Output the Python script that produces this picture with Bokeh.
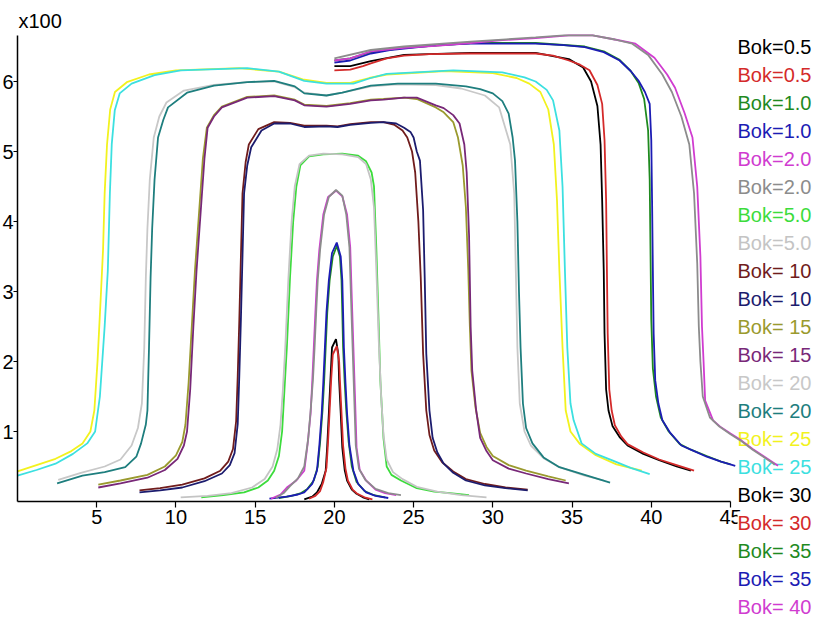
from bokeh.plotting import figure
from bokeh.models import Range1d, FixedTicker, Label
from bokeh.embed import file_html
from bokeh.resources import INLINE

# ---------------- data (x, y in units of 100) ----------------
bok05_black = [(18.1,0.03),(18.6,0.07),(18.9,0.13),(19.2,0.25),(19.45,0.44),(19.55,0.8),(19.65,1.26),(19.75,1.73),(19.85,2.2),(20.1,2.32),(20.25,2.1),(20.3,1.73),(20.4,1.26),(20.5,0.77),(20.65,0.45),(20.8,0.3),(21.1,0.17),(21.4,0.11),(21.8,0.06),(22.2,0.03)]
bok05_red = [(18.4,0.04),(18.8,0.08),(19.1,0.15),(19.3,0.28),(19.5,0.48),(19.6,0.85),(19.7,1.3),(19.8,1.75),(19.9,2.1),(20.15,2.22),(20.3,2.0),(20.35,1.73),(20.45,1.26),(20.55,0.8),(20.7,0.47),(20.85,0.3),(21.15,0.17),(21.45,0.11),(21.9,0.06),(22.4,0.03)]
bok1_green = [(16.5,0.05),(17.3,0.08),(17.9,0.12),(18.3,0.18),(18.7,0.3),(18.95,0.5),(19.1,0.85),(19.25,1.3),(19.35,1.7),(19.45,2.2),(19.55,2.7),(19.7,3.16),(19.9,3.5),(20.15,3.65),(20.35,3.5),(20.45,3.16),(20.5,2.7),(20.55,2.2),(20.65,1.7),(20.75,1.3),(20.9,0.85),(21.1,0.5),(21.4,0.28),(21.9,0.15),(22.5,0.09),(23.2,0.06)]
bok1_blue = [(15.9,0.04),(17.0,0.07),(17.7,0.1),(18.1,0.13),(18.6,0.25),(18.9,0.44),(19.05,0.8),(19.2,1.26),(19.3,1.7),(19.4,2.2),(19.5,2.7),(19.65,3.16),(19.85,3.55),(20.15,3.7),(20.4,3.5),(20.5,3.16),(20.55,2.7),(20.6,2.2),(20.7,1.7),(20.8,1.26),(20.95,0.8),(21.2,0.44),(21.5,0.25),(22.0,0.13),(22.6,0.08),(23.4,0.05)]
bok2_magenta = [(16.0,0.04),(16.6,0.1),(17.0,0.2),(17.6,0.3),(18.1,0.44),(18.3,0.8),(18.5,1.26),(18.6,1.7),(18.7,2.2),(18.8,2.7),(18.9,3.16),(19.05,3.6),(19.3,4.1),(19.6,4.35),(20.1,4.44),(20.5,4.36),(20.8,4.1),(21.0,3.63),(21.1,2.9),(21.2,2.2),(21.3,1.5),(21.4,0.77),(21.6,0.45),(22.0,0.3),(22.6,0.17),(23.2,0.12),(23.9,0.09)]
bok2_gray = [(16.3,0.05),(16.8,0.12),(17.2,0.22),(17.7,0.33),(18.1,0.5),(18.35,0.9),(18.5,1.3),(18.65,1.75),(18.75,2.2),(18.85,2.7),(18.95,3.16),(19.1,3.6),(19.35,4.1),(19.65,4.35),(20.1,4.45),(20.5,4.37),(20.75,4.1),(20.95,3.63),(21.05,2.9),(21.15,2.2),(21.25,1.5),(21.35,0.8),(21.55,0.47),(21.95,0.31),(22.6,0.18),(23.4,0.12),(24.2,0.09)]
bok5_lime = [(11.6,0.06),(13.0,0.09),(14.3,0.13),(15.2,0.2),(15.8,0.3),(16.2,0.44),(16.5,0.65),(16.7,1.0),(16.85,1.6),(17.0,2.2),(17.2,3.2),(17.4,4.0),(17.6,4.5),(17.85,4.8),(18.4,4.93),(19.3,4.96),(20.5,4.97),(21.5,4.94),(22.0,4.86),(22.35,4.7),(22.5,4.5),(22.65,3.6),(22.8,2.5),(22.9,1.73),(23.1,0.9),(23.3,0.5),(23.6,0.38),(24.2,0.3),(25.2,0.19),(26.3,0.14),(27.3,0.12),(28.5,0.09)]
bok5_silver = [(10.3,0.06),(12.0,0.08),(13.5,0.12),(14.8,0.2),(15.6,0.32),(16.1,0.5),(16.4,0.75),(16.6,1.1),(16.75,1.6),(16.9,2.2),(17.1,3.2),(17.3,4.0),(17.5,4.5),(17.8,4.82),(18.4,4.94),(19.3,4.97),(20.5,4.96),(21.5,4.92),(22.0,4.82),(22.3,4.6),(22.5,4.2),(22.65,3.3),(22.8,2.3),(22.95,1.5),(23.1,0.95),(23.3,0.6),(23.7,0.42),(24.3,0.32),(25.2,0.21),(26.5,0.14),(28.0,0.09),(29.6,0.06)]
bok10_maroon = [(7.7,0.16),(9.0,0.19),(10.4,0.24),(11.8,0.33),(12.8,0.44),(13.3,0.57),(13.6,0.75),(13.8,1.15),(13.9,1.8),(14.0,2.6),(14.1,3.5),(14.2,4.4),(14.4,4.85),(14.6,5.1),(15.2,5.32),(16.2,5.42),(17.2,5.41),(18.1,5.37),(19.5,5.37),(20.2,5.36),(21.0,5.39),(22.3,5.42),(23.1,5.42),(23.8,5.38),(24.3,5.3),(24.6,5.2),(24.9,5.0),(25.1,4.7),(25.3,4.0),(25.45,3.2),(25.6,2.11),(25.8,1.3),(26.0,0.95),(26.3,0.73),(26.8,0.56),(27.5,0.43),(28.3,0.32),(29.5,0.25),(30.8,0.2),(32.2,0.17)]
bok10_navy = [(7.7,0.13),(9.0,0.16),(10.4,0.2),(11.8,0.29),(12.9,0.4),(13.4,0.52),(13.7,0.69),(13.9,1.11),(14.0,1.8),(14.1,2.6),(14.2,3.5),(14.3,4.4),(14.5,4.8),(14.75,5.06),(15.4,5.3),(16.2,5.4),(17.2,5.4),(18.1,5.35),(19.5,5.36),(20.2,5.35),(21.0,5.38),(22.3,5.41),(23.1,5.42),(23.9,5.4),(24.4,5.34),(24.8,5.28),(25.0,5.2),(25.2,5.0),(25.4,4.87),(25.6,4.16),(25.7,3.2),(25.8,2.11),(26.0,1.3),(26.2,0.91),(26.5,0.7),(26.9,0.54),(27.5,0.41),(28.3,0.3),(29.5,0.23),(30.8,0.19),(32.2,0.16)]
bok15_olive = [(5.1,0.24),(6.5,0.3),(8.2,0.38),(9.3,0.5),(10.0,0.66),(10.4,0.85),(10.6,1.1),(10.8,1.7),(11.0,2.5),(11.2,3.3),(11.5,4.26),(11.7,4.9),(11.95,5.34),(12.4,5.52),(12.9,5.64),(14.5,5.78),(16.2,5.8),(17.5,5.74),(18.1,5.67),(19.5,5.65),(21.0,5.69),(22.3,5.74),(23.1,5.75),(24.4,5.77),(25.2,5.75),(26.4,5.63),(26.9,5.56),(27.5,5.42),(27.8,5.2),(28.1,4.8),(28.3,4.2),(28.45,3.3),(28.55,2.5),(28.65,1.87),(28.9,1.35),(29.2,0.98),(29.6,0.78),(30.0,0.65),(31.0,0.52),(32.1,0.44),(33.5,0.36),(34.6,0.3)]
bok15_purple = [(5.1,0.2),(6.5,0.26),(8.2,0.34),(9.3,0.45),(10.1,0.61),(10.5,0.8),(10.7,1.0),(10.9,1.6),(11.1,2.5),(11.3,3.3),(11.6,4.26),(11.8,4.9),(12.0,5.34),(12.4,5.5),(12.9,5.63),(14.5,5.77),(16.2,5.79),(17.5,5.73),(18.1,5.66),(19.5,5.64),(21.0,5.68),(22.3,5.73),(23.1,5.74),(24.4,5.77),(25.2,5.77),(26.4,5.66),(26.9,5.62),(27.5,5.52),(27.9,5.4),(28.2,5.1),(28.35,4.7),(28.5,3.8),(28.6,2.5),(28.7,1.87),(28.95,1.3),(29.2,0.91),(29.6,0.72),(30.0,0.59),(31.0,0.47),(32.1,0.4),(33.5,0.32),(34.8,0.26)]
bok20_silver = [(2.57,0.31),(4.0,0.41),(5.5,0.5),(6.5,0.6),(7.2,0.8),(7.6,1.05),(7.85,1.4),(8.0,2.2),(8.1,3.2),(8.2,3.9),(8.35,4.6),(8.6,5.2),(8.95,5.5),(9.4,5.7),(10.5,5.87),(12.4,5.95),(14.5,5.99),(16.2,6.0),(17.5,5.92),(18.1,5.84),(19.5,5.8),(20.5,5.84),(22.3,5.93),(24.0,5.96),(26.4,5.95),(28.0,5.9),(29.5,5.8),(30.4,5.63),(31.1,5.1),(31.35,4.4),(31.45,3.3),(31.55,2.2),(31.7,1.4),(32.0,1.0),(32.4,0.8),(33.2,0.62),(34.2,0.49),(35.8,0.37),(37.0,0.3)]
bok20_teal = [(2.5,0.26),(4.1,0.37),(5.5,0.42),(6.8,0.49),(7.5,0.64),(7.8,0.83),(8.1,1.1),(8.2,1.3),(8.3,2.2),(8.4,3.2),(8.5,3.9),(8.65,4.6),(8.87,5.2),(9.2,5.45),(9.5,5.63),(10.7,5.84),(12.4,5.94),(14.5,5.99),(16.2,6.01),(17.5,5.93),(18.1,5.83),(19.5,5.8),(20.5,5.84),(22.3,5.94),(24.0,5.97),(26.4,5.97),(28.3,5.93),(29.2,5.89),(30.0,5.83),(30.6,5.72),(31.0,5.54),(31.25,5.2),(31.4,4.87),(31.55,4.0),(31.65,3.0),(31.75,2.2),(31.9,1.4),(32.1,1.05),(32.5,0.83),(33.2,0.63),(34.2,0.49),(35.8,0.38),(37.4,0.27)]
bok25_yellow = [(0,0.43),(1.2,0.52),(2.4,0.61),(3.4,0.72),(4.1,0.83),(4.6,1.0),(4.85,1.3),(5.05,2.0),(5.25,2.9),(5.4,3.6),(5.5,4.4),(5.65,5.1),(5.85,5.6),(6.15,5.85),(6.9,5.99),(8.3,6.1),(10.0,6.16),(14.0,6.19),(16.5,6.14),(18.0,6.03),(19.5,5.98),(21.0,5.98),(22.2,6.05),(23.3,6.1),(27.0,6.15),(30.0,6.12),(31.5,6.05),(32.3,5.97),(33.0,5.85),(33.5,5.6),(33.85,5.1),(34.05,4.3),(34.2,3.3),(34.4,2.2),(34.6,1.3),(34.9,1.0),(35.5,0.82),(36.5,0.66),(37.8,0.53),(39.4,0.44)]
bok25_cyan = [(0,0.37),(1.2,0.45),(2.4,0.54),(3.5,0.68),(4.4,0.83),(4.9,1.0),(5.2,1.5),(5.5,2.5),(5.7,3.3),(5.83,4.4),(5.95,5.11),(6.14,5.59),(6.45,5.83),(7.2,5.97),(8.65,6.09),(10.3,6.16),(14.5,6.19),(16.5,6.14),(18.1,6.01),(19.5,5.97),(21.2,5.97),(22.3,6.05),(23.3,6.11),(27.5,6.16),(30.6,6.13),(32.0,6.06),(32.7,6.0),(33.4,5.88),(33.8,5.73),(34.2,5.3),(34.4,4.5),(34.55,3.3),(34.7,2.2),(34.9,1.4),(35.1,1.16),(35.6,0.83),(36.5,0.68),(37.5,0.59),(38.7,0.48),(39.9,0.39)]
bok30_black = [(20.0,6.22),(21.0,6.22),(22.3,6.29),(24.4,6.38),(28.6,6.41),(32.7,6.41),(34.8,6.32),(35.7,6.2),(36.2,6.0),(36.6,5.65),(36.8,5.1),(36.9,4.3),(37.0,3.3),(37.05,2.4),(37.15,1.6),(37.3,1.3),(37.55,1.08),(38.0,0.92),(38.5,0.8),(39.5,0.68),(40.5,0.59),(41.6,0.5),(42.5,0.44)]
bok30_red = [(20.0,6.16),(21.0,6.17),(21.8,6.22),(22.3,6.26),(23.3,6.33),(24.4,6.37),(26.0,6.39),(28.6,6.4),(30.6,6.4),(32.7,6.4),(33.8,6.37),(34.8,6.3),(35.5,6.24),(36.1,6.16),(36.6,5.95),(36.9,5.68),(37.05,5.16),(37.15,4.3),(37.2,3.3),(37.25,2.4),(37.35,1.6),(37.5,1.3),(37.7,1.09),(38.1,0.93),(38.5,0.82),(39.5,0.7),(40.5,0.6),(41.6,0.52),(42.7,0.44)]
bok35_green = [(20.0,6.3),(21.0,6.33),(22.3,6.42),(24.4,6.48),(28.6,6.55),(32.7,6.55),(35.8,6.5),(37.0,6.43),(38.0,6.31),(38.7,6.15),(39.2,5.98),(39.55,5.75),(39.8,5.3),(39.9,4.6),(39.95,3.6),(40.0,2.6),(40.1,1.9),(40.3,1.5),(40.6,1.2),(41.1,1.0),(41.8,0.82),(42.5,0.74),(43.5,0.65),(44.4,0.57),(45.0,0.53)]
bok35_blue = [(20.0,6.27),(21.0,6.3),(22.3,6.4),(23.5,6.45),(24.4,6.47),(26.5,6.52),(28.6,6.54),(32.7,6.54),(34.5,6.52),(35.8,6.49),(37.0,6.42),(38.0,6.3),(38.7,6.15),(39.2,6.01),(39.6,5.85),(39.9,5.68),(40.0,5.16),(40.05,4.3),(40.1,3.3),(40.15,2.4),(40.25,1.73),(40.45,1.4),(40.7,1.16),(41.2,0.98),(41.9,0.8),(42.6,0.73),(43.5,0.64),(44.4,0.57),(45.3,0.51)]
bok40_magenta = [(20.0,6.3),(21.0,6.33),(22.3,6.43),(24.4,6.48),(26.4,6.51),(28.6,6.55),(30.6,6.59),(32.7,6.62),(34.8,6.66),(36.3,6.66),(37.7,6.6),(39.0,6.54),(40.2,6.34),(41.0,6.1),(41.5,5.91),(42.1,5.55),(42.6,5.2),(42.9,4.5),(43.1,3.5),(43.2,2.5),(43.3,2.0),(43.4,1.44),(43.9,1.16),(44.4,1.06),(45.0,0.97),(45.7,0.87),(46.4,0.75),(47.0,0.66),(48.0,0.51)]
bok40_gray = [(20.0,6.33),(22.3,6.45),(24.4,6.5),(28.6,6.57),(32.7,6.63),(34.5,6.66),(36.3,6.66),(37.7,6.6),(38.8,6.54),(39.8,6.38),(40.7,6.1),(41.3,5.85),(41.9,5.5),(42.4,5.1),(42.7,4.4),(42.9,3.4),(43.0,2.5),(43.1,2.0),(43.25,1.5),(43.7,1.2),(44.3,1.07),(45.0,0.96),(45.7,0.86),(46.4,0.74),(47.0,0.65),(47.8,0.53)]

legend_labels = ["Bok=0.5", "Bok=0.5", "Bok=1.0", "Bok=1.0", "Bok=2.0", "Bok=2.0",
                 "Bok=5.0", "Bok=5.0", "Bok= 10", "Bok= 10", "Bok= 15", "Bok= 15",
                 "Bok= 20", "Bok= 20", "Bok= 25", "Bok= 25", "Bok= 30", "Bok= 30",
                 "Bok= 35", "Bok= 35", "Bok= 40"]
legend_colors = ["#000000", "#D42A2A", "#1F8A1F", "#1C1CB4", "#D03CD0", "#8C8C8C",
                 "#3CDC3C", "#C4C4C4", "#701C1C", "#1C1C6E", "#9A9A2E", "#782878",
                 "#C8C8C8", "#1E7E7E", "#F2F21E", "#3CE0E0", "#000000", "#D42A2A",
                 "#1F8A1F", "#1C1CB4", "#D03CD0"]
legend_series = [bok05_black, bok05_red, bok1_green, bok1_blue, bok2_magenta, bok2_gray,
                 bok5_lime, bok5_silver, bok10_maroon, bok10_navy, bok15_olive, bok15_purple,
                 bok20_silver, bok20_teal, bok25_yellow, bok25_cyan, bok30_black, bok30_red,
                 bok35_green, bok35_blue, bok40_magenta]
extra_series = [(bok40_gray, "#8C8C8C")]

x_ticks = [5, 10, 15, 20, 25, 30, 35, 40, 45]
y_ticks = [1, 2, 3, 4, 5, 6]

FONT = "Liberation Sans"

# page geometry: canvas spans page x 0..W and y 0..H
W, H = 819, 618
X0_PX = 17           # page x of x=0
SX = (730 - X0_PX) / 45.0   # px per x unit
SY = 70.0            # px per y unit
Y0_PX = 501          # page y of y=0
x_start = -X0_PX / SX
x_end = (W - X0_PX) / SX
y_end = Y0_PX / SY
y_start = (Y0_PX - H) / SY

p = figure(width=W, height=H, x_range=Range1d(x_start, x_end), y_range=Range1d(y_start, y_end),
           output_backend="svg", toolbar_location=None,
           min_border_left=0, min_border_right=0, min_border_top=0, min_border_bottom=0)
p.background_fill_color = "white"
p.border_fill_color = "white"
p.outline_line_color = None
p.xgrid.grid_line_color = None
p.ygrid.grid_line_color = None

for ax, ticks, bounds in ((p.xaxis[0], x_ticks, (0, 45)), (p.yaxis[0], y_ticks, (0, 6.66))):
    ax.fixed_location = 0
    ax.ticker = FixedTicker(ticks=ticks)
    ax.bounds = bounds
    ax.axis_line_color = "black"
    ax.axis_line_width = 1.5
    ax.major_tick_line_color = "black"
    ax.major_tick_line_width = 1.2
    ax.major_tick_in = 0
    ax.minor_tick_line_color = None
    ax.major_label_text_font = FONT
    ax.major_label_text_font_size = "20px"
    ax.major_label_text_color = "black"
p.xaxis[0].major_tick_out = 6
p.xaxis[0].major_label_standoff = 2
p.yaxis[0].major_tick_out = 4
p.yaxis[0].major_label_standoff = 0

for data, color in zip(legend_series, legend_colors):
    lvl = "overlay" if data is bok40_magenta else "glyph"
    p.line([d[0] for d in data], [d[1] for d in data], line_color=color, line_width=1.8, level=lvl)
for data, color in extra_series:
    p.line([d[0] for d in data], [d[1] for d in data], line_color=color, line_width=1.8, level="overlay")

p.add_layout(Label(x=(18 - X0_PX) / SX, y=(Y0_PX - 20) / SY, text="x100", text_font=FONT,
                   text_font_size="20px", text_color="black", text_baseline="middle"))

LEG_X = (737 - X0_PX) / SX
for i, (txt, col) in enumerate(zip(legend_labels, legend_colors)):
    py = 46 + 28 * i
    p.add_layout(Label(x=LEG_X, y=(Y0_PX - py) / SY, text=txt, text_font=FONT,
                       text_font_size="20px", text_color=col, text_baseline="middle",
                       text_align="left", background_fill_color="white"))

open("out.html", "w").write(file_html(p, INLINE))
